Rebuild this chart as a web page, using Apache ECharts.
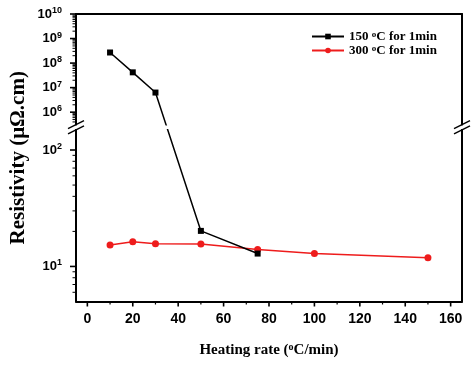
<!DOCTYPE html>
<html>
<head>
<meta charset="utf-8">
<script src="https://cdn.jsdelivr.net/npm/echarts@6/dist/echarts.min.js"></script>
<style>html,body{margin:0;padding:0;background:#fff;}#c{width:476px;height:365px;}</style>
</head>
<body>
<div id="c"></div>
<script>
// ---- data ----
const rate150 = [10, 20, 30, 50, 75];
const resist150 = [2.7e8, 4.2e7, 6.3e6, 20.2, 12.9];
const rate300 = [10, 20, 30, 50, 75, 100, 150];
const resist300 = [15.3, 16.3, 15.7, 15.6, 14.0, 12.9, 11.9];
const xTicksMajor = [0, 20, 40, 60, 80, 100, 120, 140, 160];
const xTicksMinor = [10, 30, 50, 70, 90, 110, 130, 150];
const yUpperMajor = [1e6, 1e7, 1e8, 1e9, 1e10];
const yLowerMajor = [10, 100];
const seriesNames = ['150 °C for 1min', '300 °C for 1min'];

// ---- layout ----
const W = 476, H = 365;
const L = 76, R = 14;
const X_MIN = -5, X_MAX = 165;
const UP = {top: 14, h: 111, min: 3e5, max: 1e10};
const LO = {top: 129.5, h: 172, min: 5, max: 150};
const GAP = LO.top - (UP.top + UP.h);
const OV_H = LO.top + LO.h - UP.top;
const lg = Math.log10;

function yUpperMinor() {
  const out = [];
  for (let e = 5; e < 10; e++) for (let k = 2; k <= 9; k++) { const v = k * Math.pow(10, e); if (v > UP.min) out.push(v); }
  return out;
}
function yLowerMinor() {
  const out = [];
  for (let e = 0; e < 2; e++) for (let k = 2; k <= 9; k++) { const v = k * Math.pow(10, e); if (v > LO.min && v < LO.max) out.push(v); }
  return out;
}
// broken-axis scale: maps a value to the overlay axis (px from bottom)
function brk(v) {
  if (v <= LO.max) return (lg(v) - lg(LO.min)) / (lg(LO.max) - lg(LO.min)) * LO.h;
  return LO.h + GAP + (lg(v) - lg(UP.min)) / (lg(UP.max) - lg(UP.min)) * UP.h;
}

const sansB = {fontFamily: '"Liberation Sans", Arial, sans-serif', fontWeight: 'bold', color: '#000'};
const serifB = {fontFamily: '"Liberation Serif", "Times New Roman", serif', fontWeight: 'bold', color: '#000'};

function isPow(v) { const e = lg(v); return Math.abs(e - Math.round(e)) < 1e-6; }
const yLabel = {
  margin: 14,
  formatter: v => isPow(v) ? '{b|10}{s|' + Math.round(lg(v)) + '}' : '',
  rich: {
    b: Object.assign({fontSize: 13, lineHeight: 16}, sansB),
    s: Object.assign({fontSize: 9, lineHeight: 9, verticalAlign: 'top'}, sansB)
  }
};
const noAxis = {show: false};
const axLine = {show: true, onZero: false, lineStyle: {color: '#000', width: 2}};

const chart = echarts.init(document.getElementById('c'), null, {renderer: 'canvas'});
chart.setOption({
  animation: false,
  backgroundColor: '#fff',
  grid: [
    {left: L, right: R, top: UP.top, height: UP.h},
    {left: L, right: R, top: LO.top, height: LO.h},
    {left: L, right: R, top: UP.top, height: OV_H}
  ],
  xAxis: [
    {gridIndex: 0, type: 'value', min: X_MIN, max: X_MAX, position: 'top',
     axisLine: axLine, axisTick: noAxis, axisLabel: noAxis, splitLine: noAxis},
    {gridIndex: 1, type: 'value', min: X_MIN, max: X_MAX, interval: 5, position: 'bottom',
     axisLine: axLine, axisTick: noAxis, splitLine: noAxis,
     axisLabel: Object.assign({margin: 11, fontSize: 14, formatter: v => (v % 20 === 0 && v >= 0 && v <= 160) ? String(v) : ''}, sansB),
     name: 'Heating rate ({s|o}C/min)', nameLocation: 'middle', nameGap: 41,
     nameTextStyle: Object.assign({fontSize: 15, rich: {s: Object.assign({fontSize: 10, lineHeight: 4, verticalAlign: 'top'}, serifB)}}, serifB)},
    {gridIndex: 2, type: 'value', min: X_MIN, max: X_MAX, show: false}
  ],
  yAxis: [
    {gridIndex: 0, type: 'log', min: UP.min, max: UP.max, splitNumber: 5,
     axisLine: axLine, axisTick: noAxis, splitLine: noAxis, axisLabel: yLabel},
    {gridIndex: 1, type: 'log', min: LO.min, max: LO.max, splitNumber: 1,
     axisLine: axLine, axisTick: noAxis, splitLine: noAxis, axisLabel: yLabel},
    {gridIndex: 2, type: 'value', min: 0, max: OV_H,
     axisLine: noAxis, axisTick: noAxis, axisLabel: noAxis, splitLine: noAxis,
     name: 'Resistivity (μΩ.cm)', nameLocation: 'middle', nameGap: 47,
     nameTextStyle: Object.assign({fontSize: 21}, serifB)},
    {gridIndex: 0, type: 'log', min: UP.min, max: UP.max, position: 'right',
     axisLine: axLine, axisTick: noAxis, axisLabel: noAxis, splitLine: noAxis},
    {gridIndex: 1, type: 'log', min: LO.min, max: LO.max, position: 'right',
     axisLine: axLine, axisTick: noAxis, axisLabel: noAxis, splitLine: noAxis}
  ],
  legend: {
    data: seriesNames, orient: 'vertical', left: 311, top: 30, itemWidth: 32, itemHeight: 7, itemGap: 1, padding: 0,
    formatter: n => n.replace(' °C', ' {s|o}C'),
    textStyle: Object.assign({fontSize: 13, lineHeight: 12, rich: {s: Object.assign({fontSize: 9, lineHeight: 3, verticalAlign: 'top'}, serifB)}}, serifB)
  },
  series: [
    {name: seriesNames[0], type: 'line', xAxisIndex: 2, yAxisIndex: 2, z: 5,
     data: rate150.map((x, i) => [x, brk(resist150[i])]),
     symbol: 'rect', symbolSize: 6, itemStyle: {color: '#000'}, lineStyle: {color: '#000', width: 1.5}},
    {name: seriesNames[1], type: 'line', xAxisIndex: 2, yAxisIndex: 2, z: 4,
     data: rate300.map((x, i) => [x, brk(resist300[i])]),
     symbol: 'circle', symbolSize: 7, itemStyle: {color: '#ee1c1c'}, lineStyle: {color: '#ee1c1c', width: 1.5}}
  ]
});

// tick marks and axis-break symbols (tick rectangles placed on the overlay axes' scale)
(function () {
  const els = [];
  const OV = {xAxisIndex: 2, yAxisIndex: 2};
  const plotW = W - L - R;
  function pix(xv, yv) {
    let p = null;
    try { p = chart.convertToPixel(OV, [xv, yv]); } catch (e) { p = null; }
    if (!p || !isFinite(p[0]) || !isFinite(p[1])) {
      p = [L + (xv - X_MIN) / (X_MAX - X_MIN) * plotW, UP.top + OV_H - yv / OV_H * OV_H];
    }
    return p;
  }
  const yTick = (vals, len, w) => vals.forEach(v => {
    const p = pix(X_MIN, brk(v));
    els.push({type: 'rect', z: 50, shape: {x: p[0] - len, y: p[1] - w / 2, width: len, height: w}, style: {fill: '#000'}});
  });
  const xTick = (vals, len, w) => vals.forEach(v => {
    const p = pix(v, 0);
    els.push({type: 'rect', z: 50, shape: {x: p[0] - w / 2, y: p[1], width: w, height: len}, style: {fill: '#000'}});
  });
  yTick(yUpperMajor, 6, 1.6);
  yTick(yUpperMinor(), 3.5, 1);
  yTick(yLowerMajor, 6, 1.6);
  yTick(yLowerMinor(), 3.5, 1);
  xTick(xTicksMajor, 5, 1.6);
  xTick(xTicksMinor, 3, 1.2);

  const yc = UP.top + UP.h + GAP / 2;
  els.push({type: 'rect', z: 100, shape: {x: L - 8, y: UP.top + UP.h + 0.5, width: W - R - L + 16, height: GAP - 1}, style: {fill: '#fff'}});
  [L, W - R].forEach(x => {
    [-2.6, 2.6].forEach(d => {
      els.push({type: 'line', z: 101, shape: {x1: x - 8, y1: yc + d + 4, x2: x + 8, y2: yc + d - 4}, style: {stroke: '#000', lineWidth: 1.5}});
    });
  });
  chart.setOption({graphic: {elements: els}});
})();
</script>
</body>
</html>
